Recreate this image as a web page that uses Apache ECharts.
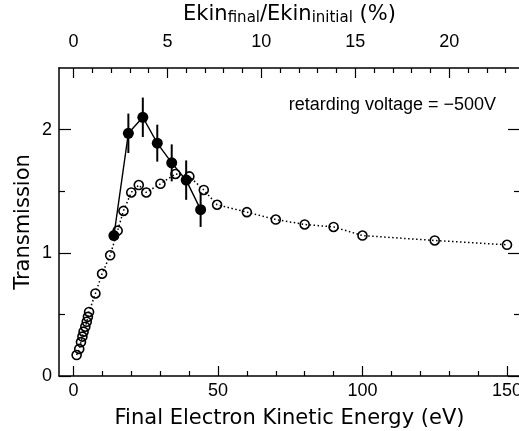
<!DOCTYPE html>
<html>
<head>
<meta charset="utf-8">
<script src="https://cdn.jsdelivr.net/npm/echarts@6/dist/echarts.min.js"></script>
<style>
  html, body { margin: 0; padding: 0; background: #fff; }
  #charts { width: 519px; height: 431px; }
</style>
</head>
<body>
<div id="charts"></div>
<script>
    // open circles, dotted line
    var openX = [1.1, 2, 2.6, 3.1, 3.5, 4.1, 4.6, 5, 5.4, 7.6, 9.9, 12.7, 15.3, 17.3, 20, 22.6, 25.2,
                 30.1, 35.3, 40.1, 45.1, 49.7, 60, 70, 80, 90, 100, 125, 150];
    var openY = [0.17, 0.22, 0.275, 0.32, 0.36, 0.40, 0.44, 0.48, 0.52, 0.67, 0.83, 0.98, 1.18, 1.34, 1.49, 1.55, 1.49,
                 1.56, 1.64, 1.62, 1.51, 1.39, 1.33, 1.27, 1.23, 1.21, 1.14, 1.10, 1.065];
    // filled circles, solid line, with error bars
    var fillX = [14, 19, 24, 29, 34, 39, 44];
    var fillY = [1.14, 1.97, 2.10, 1.89, 1.73, 1.59, 1.35];
    var fillErr = [0.03, 0.16, 0.16, 0.15, 0.15, 0.16, 0.14];

    var bottomMajor = [0, 50, 100, 150];
    var bottomMinor = [10, 20, 30, 40, 60, 70, 80, 90, 110, 120, 130, 140];
    var topMajor = [0, 5, 10, 15, 20];
    var topMinor = [1, 2, 3, 4, 6, 7, 8, 9, 11, 12, 13, 14, 16, 17, 18, 19, 21, 22, 23];
    var yMajor = [0, 1, 2];
    var yMinor = [0.5, 1.5];

    var evPerPercent = 6.5;
    var xMin = -5, xMax = 154.5;

    var openData = openX.map(function (x, i) { return [x, openY[i]]; });
    var fillData = fillX.map(function (x, i) { return [x, fillY[i]]; });
    var errData = fillX.map(function (x, i) { return [x, fillY[i] - fillErr[i], fillY[i] + fillErr[i]]; });

    var font = 'DejaVu Sans';
    var numFont = 'Liberation Sans';
    var black = '#000';

    // one axis; grid 0 carries the long ticks, labels and frame, grid 1 the short ticks
    function ax(grid, pos, min, max, ticks, len, labelMargin, extra) {
        var a = {
            type: 'value', gridIndex: grid, position: pos, min: min, max: max,
            splitLine: { show: false },
            nameMoveOverlap: false,
            axisLine: { show: grid === 0, onZero: false, lineStyle: { color: black, width: 1.5 } },
            axisTick: { show: true, inside: true, length: len, customValues: ticks,
                        lineStyle: { color: black, width: 1.2 } },
            axisLabel: labelMargin ? { show: true, customValues: ticks, color: black,
                                       fontFamily: numFont, fontSize: 18, margin: labelMargin }
                                   : { show: false }
        };
        for (var k in extra) a[k] = extra[k];
        return a;
    }

    var g = { left: 59, right: -1, top: 68, bottom: 55, outerBoundsMode: 'none' };
    var topMin = xMin / evPerPercent, topMax = xMax / evPerPercent;

    var myChart = echarts.init(document.getElementById('charts'));
    myChart.setOption({
        animation: false,
        backgroundColor: '#fff',
        grid: [g, g],
        xAxis: [
            ax(0, 'bottom', xMin, xMax, bottomMajor, 10, 6, {
                name: 'Final Electron Kinetic Energy (eV)', nameLocation: 'middle', nameGap: 32,
                nameTextStyle: { color: black, fontFamily: font, fontSize: 21 }
            }),
            ax(0, 'top', topMin, topMax, topMajor, 10, 17, {
                name: 'Ekin{s|final}/Ekin{s|initial} (%)', nameLocation: 'middle', nameGap: 42,
                nameTextStyle: { color: black, fontFamily: font, fontSize: 21,
                                 rich: { s: { fontFamily: font, fontSize: 15, verticalAlign: 'bottom',
                                              padding: [8, 0, 0, 0], color: black } } }
            }),
            ax(1, 'bottom', xMin, xMax, bottomMinor, 5, 0, {}),
            ax(1, 'top', topMin, topMax, topMinor, 5, 0, {})
        ],
        yAxis: [
            ax(0, 'left', 0, 2.5, yMajor, 12, 7, {
                name: 'Transmission', nameLocation: 'middle', nameGap: 25, nameRotate: 90,
                nameTextStyle: { color: black, fontFamily: font, fontSize: 21 }
            }),
            ax(0, 'right', 0, 2.5, yMajor, 12, 0, {}),
            ax(1, 'left', 0, 2.5, yMinor, 6, 0, {}),
            ax(1, 'right', 0, 2.5, yMinor, 6, 0, {})
        ],
        graphic: [{
            type: 'text', x: 496, y: 105,
            style: { text: 'retarding voltage = \u2212500V', fill: black, align: 'right', verticalAlign: 'middle',
                     font: '18px "Liberation Sans"' }
        }],
        series: [
            {
                name: 'open', type: 'line', data: openData, xAxisIndex: 0, yAxisIndex: 0,
                symbol: 'circle', symbolSize: 9,
                lineStyle: { color: black, width: 1.5, type: [1.5, 2.5] },
                itemStyle: { color: 'rgba(0,0,0,0)', borderColor: black, borderWidth: 1.6 },
                z: 3
            },
            {
                name: 'errors', type: 'custom', data: errData, xAxisIndex: 0, yAxisIndex: 0,
                renderItem: function (params, api) {
                    var lo = api.coord([api.value(0), api.value(1)]);
                    var hi = api.coord([api.value(0), api.value(2)]);
                    return { type: 'line', shape: { x1: lo[0], y1: lo[1], x2: hi[0], y2: hi[1] },
                             style: { stroke: black, lineWidth: 2 } };
                },
                encode: { x: 0, y: [1, 2] },
                z: 4
            },
            {
                name: 'filled', type: 'line', data: fillData, xAxisIndex: 0, yAxisIndex: 0,
                symbol: 'circle', symbolSize: 11,
                lineStyle: { color: black, width: 1.4 },
                itemStyle: { color: black },
                z: 5
            }
        ]
    });
</script>
</body>
</html>
